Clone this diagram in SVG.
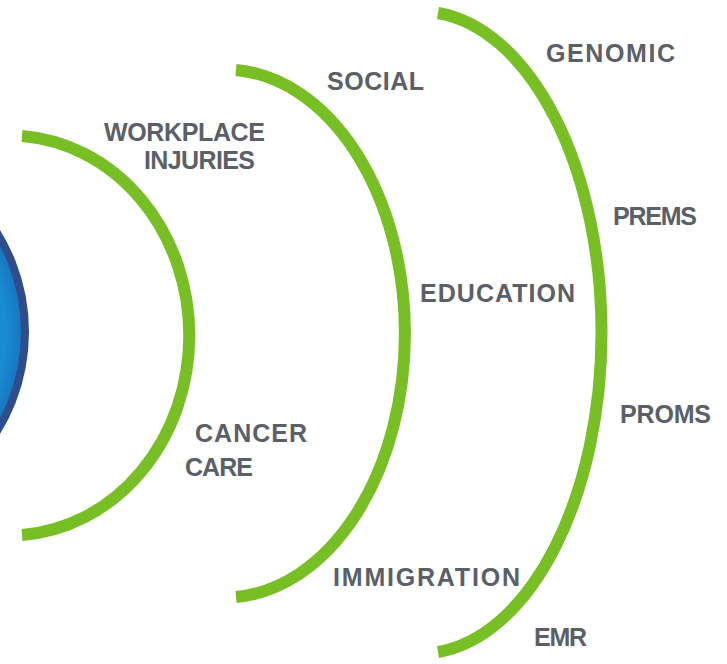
<svg xmlns="http://www.w3.org/2000/svg" width="727" height="664" viewBox="0 0 727 664">
<defs>
<radialGradient id="blueFill" cx="0.5" cy="0.5" r="0.5">
<stop offset="0" stop-color="#1680c8"/>
<stop offset="0.9" stop-color="#1a8ad2"/>
<stop offset="1" stop-color="#1572bb"/>
</radialGradient>
</defs>
<style>
.arc{fill:none;stroke:#78bf26;stroke-width:12;stroke-linecap:butt}
.lbl{font-family:"Liberation Sans",Arial,sans-serif;font-weight:bold;font-size:25px;fill:#5b6068}
</style>
<rect width="727" height="664" fill="#ffffff"/>
<g id="center-circle">
<circle cx="-165" cy="332" r="190" fill="url(#blueFill)" stroke="#2f4c8c" stroke-width="8"/>
</g>
<g id="connectors">
<path class="arc" d="M 22 136 A 180 200 0 0 1 22 535"/>
<path class="arc" d="M 236 70 A 180 264 0 0 1 236 597"/>
<path class="arc" d="M 438 13 A 181 321 0 0 1 438 652"/>
</g>
<g id="ring1-labels">
<text class="lbl" x="104" y="141" textLength="161">WORKPLACE</text>
<text class="lbl" x="144" y="169" textLength="111">INJURIES</text>
<text class="lbl" x="195" y="442" textLength="112">CANCER</text>
<text class="lbl" x="185" y="476" textLength="68">CARE</text>
</g>
<g id="ring2-labels">
<text class="lbl" x="327" y="90" textLength="97">SOCIAL</text>
<text class="lbl" x="420" y="302" textLength="155">EDUCATION</text>
<text class="lbl" x="333" y="586" textLength="187">IMMIGRATION</text>
</g>
<g id="ring3-labels">
<text class="lbl" x="546" y="62" textLength="129">GENOMIC</text>
<text class="lbl" x="613" y="225" textLength="84">PREMS</text>
<text class="lbl" x="620" y="423" textLength="91">PROMS</text>
<text class="lbl" x="534" y="646" textLength="53">EMR</text>
</g>
</svg>
